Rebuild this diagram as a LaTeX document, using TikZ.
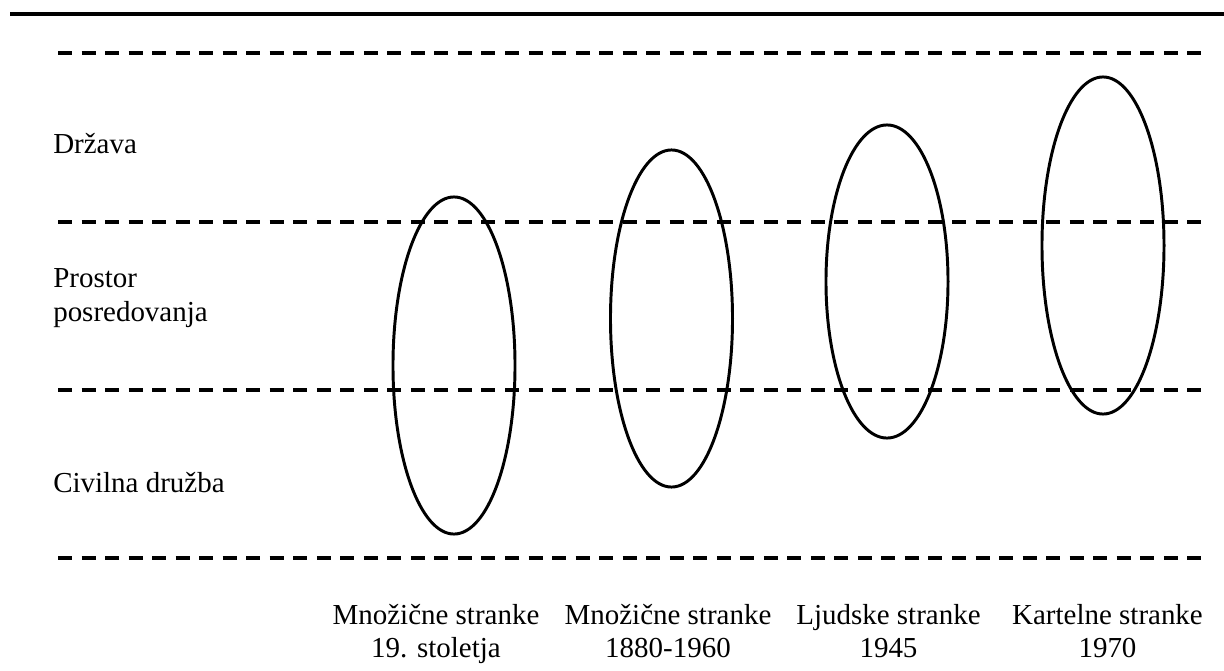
\documentclass[tikz,border=0pt]{standalone}
\usepackage{fontspec}
\setmainfont{Liberation Serif}
\usetikzlibrary{shapes.geometric}

\begin{document}
\begin{tikzpicture}[
  x=0.025cm, y=-0.025cm,
  rule/.style={line width=2.9pt},
  level/.style={line width=2.5pt, dash pattern=on 0.35cm off 0.238cm},
  party/.style={draw, ellipse, line width=2.1pt, minimum width=3.05cm, minimum height=#1},
  party/.default=8.425cm,
  lbl/.style={inner sep=0pt, font=\fontsize{20.6}{23.5}\selectfont},
  side/.style={lbl, anchor=base west, align=left},
  era/.style={lbl, anchor=base, align=center}
]
  \useasboundingbox (0,0) rectangle (1224,671);

  % Top rule
  \draw[rule] (10,14) -- (1224,14);

  % Level boundaries
  \foreach \y in {53,222,390,558}
    \draw[level] (58,\y) -- (1202,\y);

  % Levels (base = last line)
  \node[side] (state) at (53,153) {Država};
  \node[side] (mediation) at (53,321) {Prostor\\posredovanja};
  \node[side] (society) at (53,492) {Civilna družba};

  % Party types
  \node[party] (mass19) at (454,365.5) {};
  \node[party] (mass20) at (671.5,318.5) {};
  \node[party=7.825cm] (people) at (887,281.5) {};
  \node[party] (cartel) at (1103,245.5) {};

  % Periods
  \node[era] (mass19lbl) at (436,657.5) {Množične stranke\\19. stoletja};
  \node[era] (mass20lbl) at (668,657.5) {Množične stranke\\1880-1960};
  \node[era] (peoplelbl) at (888.5,657.5) {Ljudske stranke\\1945};
  \node[era] (cartellbl) at (1107.5,657.5) {Kartelne stranke\\1970};

\end{tikzpicture}
\end{document}
